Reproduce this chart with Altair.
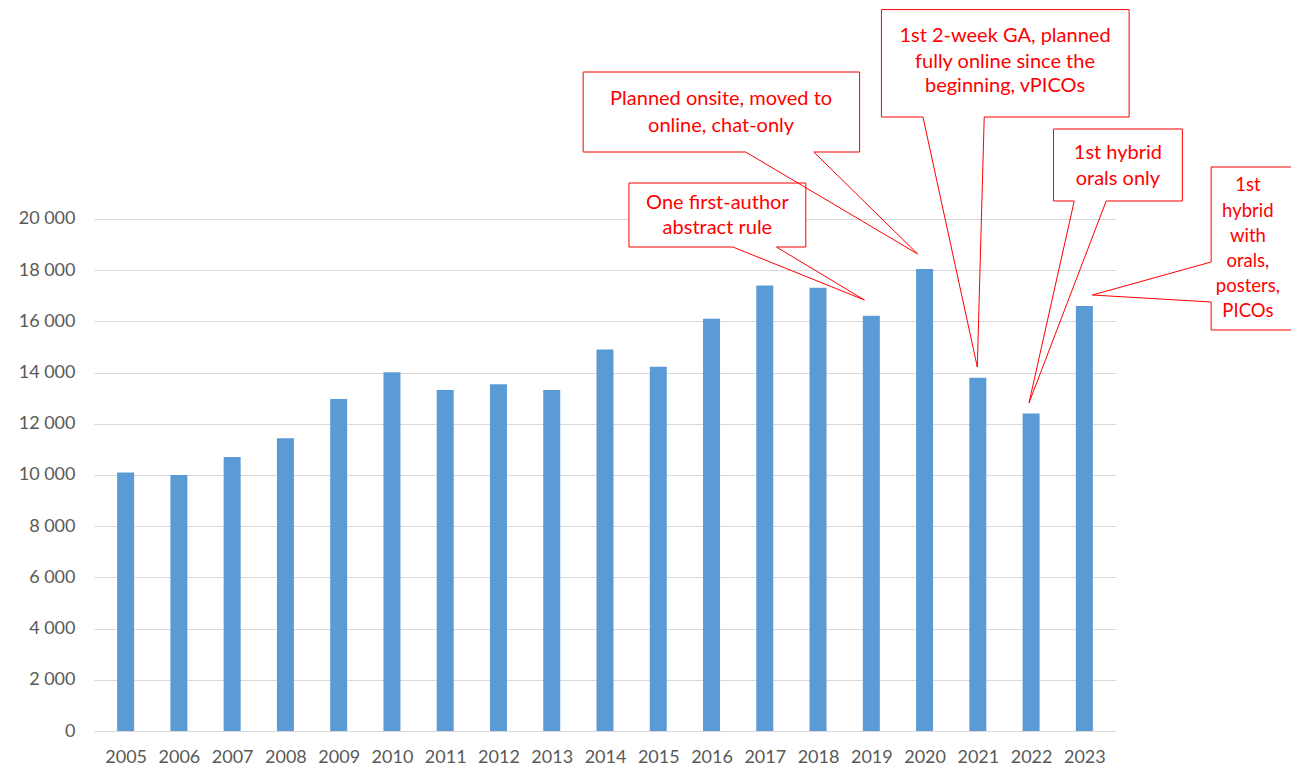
import altair as alt
import pandas as pd

# ---- data ----
years = list(range(2005, 2024))
values = [10100, 10000, 10700, 11440, 12970, 14010, 13320, 13540, 13320, 14900,
          14230, 16100, 17400, 17310, 16220, 18050, 13800, 12400, 16600]
y_ticks = [0, 2000, 4000, 6000, 8000, 10000, 12000, 14000, 16000, 18000, 20000]

# annotation boxes (in year / value units)
box_x1 = [2013.59, 2014.45, 2019.19, 2022.42, 2025.38]
box_x2 = [2018.78, 2017.77, 2023.84, 2024.84, 2027.20]
box_y1 = [22617, 18906, 23984, 20703, 15664]
box_y2 = [25742, 21406, 28180, 23516, 22031]

# annotation text lines (boxes A-D)
txt_x = [2016.18, 2016.18, 2016.11, 2016.11, 2021.51, 2021.51, 2021.51,
         2023.63, 2023.63]
txt_y = [24688, 23633, 20625, 19648, 27148, 26133, 25195,
         22578, 21563]
txt_s = ["Planned onsite, moved to", "online, chat-only",
         "One first-author", "abstract rule",
         "1st 2-week GA, planned", "fully online since the", "beginning, vPICOs",
         "1st hybrid", "orals only"]

# annotation text lines (box E, at the right edge)
side_x = [2026.07, 2026.07, 2026.07, 2026.07, 2026.07, 2026.07]
side_y = [21328, 20313, 19336, 18359, 17383, 16406]
side_s = ["1st", "hybrid", "with", "orals,", "posters,", "PICOs"]

# callout pointer segments (base on box border -> tip near bar)
ptr_x = [2016.64, 2017.92, 2016.40, 2017.22, 2019.97, 2021.12, 2022.81, 2023.41, 2025.38, 2025.38]
ptr_y = [22617, 22617, 18906, 18906, 23984, 23984, 20703, 20703, 18320, 16758]
ptr_x2 = [2019.87, 2019.87, 2018.87, 2018.87, 2020.99, 2020.99, 2021.96, 2021.96, 2023.15, 2023.15]
ptr_y2 = [18633, 18633, 16836, 16836, 14219, 14219, 12813, 12813, 17030, 17030]

# gaps in the box borders where the pointers leave
gap_x = [2016.64, 2016.40, 2019.97, 2022.81, 2025.38]
gap_x2 = [2017.92, 2017.22, 2021.12, 2023.41, 2025.38]
gap_y = [22617, 18906, 23984, 20703, 18320]
gap_y2 = [22617, 18906, 23984, 20703, 16758]

bars = pd.DataFrame({"year": years, "value": values})
boxes = pd.DataFrame({"x1": box_x1, "x2": box_x2, "y1": box_y1, "y2": box_y2})
texts = pd.DataFrame({"x": txt_x, "y": txt_y, "t": txt_s})
side_texts = pd.DataFrame({"x": side_x, "y": side_y, "t": side_s})
ptrs = pd.DataFrame({"x": ptr_x, "y": ptr_y, "x2": ptr_x2, "y2": ptr_y2})
gaps = pd.DataFrame({"x": gap_x, "y": gap_y, "x2": gap_x2, "y2": gap_y2})

FONT = "Lato"
RED = "#FF0000"
GRAY = "#595959"

xscale = alt.Scale(domain=[2004.5, 2023.5], nice=False, zero=False)
yscale = alt.Scale(domain=[0, 28242], nice=False)

xaxis = alt.Axis(values=years, format="d", title=None, grid=False, ticks=False, tickSize=0,
                 domain=False, labelFont=FONT, labelFontSize=18, labelColor=GRAY,
                 labelPadding=17, labelFlush=False)
yaxis = alt.Axis(values=y_ticks, title=None, grid=True, gridColor="#D9D9D9", gridWidth=1,
                 ticks=False, tickSize=0, domain=False, labelFont=FONT, labelFontSize=18,
                 labelColor=GRAY, labelPadding=19,
                 labelExpr="replace(format(datum.value, ','), ',', ' ')")

bar_layer = alt.Chart(bars).mark_bar(size=17, color="#5B9BD5").encode(
    x=alt.X("year:Q", scale=xscale, axis=xaxis),
    y=alt.Y("value:Q", scale=yscale, axis=yaxis),
)

box_layer = alt.Chart(boxes).mark_rect(fill="white", stroke=RED, strokeWidth=1, clip=False).encode(
    x=alt.X("x1:Q", scale=xscale), x2="x2:Q",
    y=alt.Y("y1:Q", scale=yscale), y2="y2:Q",
)

gap_layer = alt.Chart(gaps).mark_rule(color="white", strokeWidth=2.5, clip=False).encode(
    x=alt.X("x:Q", scale=xscale), x2="x2:Q",
    y=alt.Y("y:Q", scale=yscale), y2="y2:Q",
)

ptr_layer = alt.Chart(ptrs).mark_rule(color=RED, strokeWidth=1, clip=False).encode(
    x=alt.X("x:Q", scale=xscale), x2="x2:Q",
    y=alt.Y("y:Q", scale=yscale), y2="y2:Q",
)

text_layer = alt.Chart(texts).mark_text(font=FONT, fontSize=20, color=RED, align="center",
                                        baseline="middle", clip=False).encode(
    x=alt.X("x:Q", scale=xscale),
    y=alt.Y("y:Q", scale=yscale),
    text="t:N",
)

side_layer = alt.Chart(side_texts).mark_text(font=FONT, fontSize=18.5, color=RED, align="center",
                                             baseline="middle", clip=False).encode(
    x=alt.X("x:Q", scale=xscale),
    y=alt.Y("y:Q", scale=yscale),
    text="t:N",
)

chart = alt.layer(bar_layer, box_layer, gap_layer, ptr_layer, text_layer, side_layer).properties(
    width=1022, height=723,
    background="white",
    autosize=alt.AutoSizeParams(type="none"),
    padding={"left": 86, "top": 0, "right": 175, "bottom": 36},
).configure_view(strokeWidth=0, stroke=None)

chart.save("out.html", embed_options={"renderer": "svg", "actions": False})
